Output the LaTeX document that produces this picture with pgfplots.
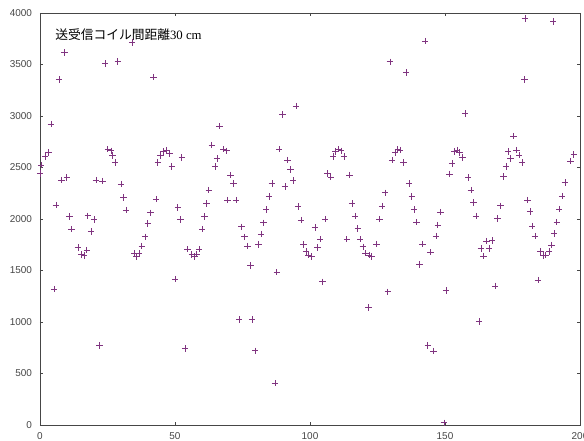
\documentclass[border=0pt]{standalone}
\usepackage{fontspec}
\usepackage{pgfplots}
\pgfplotsset{compat=1.18}
\setmainfont{Liberation Serif}
\newfontfamily\ticfont{Liberation Sans}
\newfontfamily\cjk{Noto Sans CJK JP}
\definecolor{markpurple}{RGB}{128,52,128}
\definecolor{axisgray}{RGB}{70,70,70}
\begin{document}
\begin{tikzpicture}
\useasboundingbox (-40bp,-16bp) rectangle (544bp,425bp);
\clip (-40bp,-16bp) rectangle (544bp,425bp);
\begin{axis}[
  width=540bp, height=412bp, scale only axis,
  xmin=0, xmax=200, ymin=0, ymax=4000,
  xtick={0,50,...,200}, ytick={0,500,...,4000},
  tick align=inside, major tick length=3bp,
  axis line style={axisgray, line width=0.8pt},
  tick style={axisgray, line width=0.6pt},
  /pgf/number format/assume math mode=true,
  /pgf/number format/set thousands separator={},
  scaled ticks=false,
  ticklabel style={font=\ticfont\fontsize{10}{12}\selectfont, text=axisgray},
  yticklabel style={xshift=-4.5bp},
  xticklabel style={yshift=-4.5bp},
  clip=false,
]
\addplot[only marks, mark=+, mark size=3.2bp, color=markpurple, line width=0.6pt] coordinates {
(0,2443) (0.4,2524) (1.9,2605) (3.1,2647) (4.0,2922) (5.2,1320) (5.9,2136)
(7.1,3356) (8.0,2379) (9.1,3618) (9.9,2401) (10.9,2023) (11.7,1900)
(14.0,1722) (15.4,1657) (16.4,1647) (17.3,1699) (17.7,2032) (18.9,1877)
(20.0,1997) (20.7,2379) (22.0,770) (23.1,2369) (24.1,3511) (25.1,2677)
(26.3,2663) (26.9,2615) (27.8,2550) (28.8,3530) (30.0,2340) (30.9,2210)
(31.9,2087) (34.1,3715) (34.9,1667) (35.8,1634) (36.7,1667) (37.7,1738)
(38.9,1828) (39.9,1958) (40.9,2061) (42.0,3379) (43.0,2194) (43.6,2550)
(44.6,2615) (45.7,2654) (46.7,2670) (47.9,2637) (48.8,2508) (50.0,1417)
(51.0,2113) (52.0,1997) (52.5,2599) (53.7,744) (54.7,1706) (56.2,1657)
(57.2,1634) (58.0,1660) (58.9,1706) (60.1,1900) (60.9,2023) (61.7,2152)
(62.5,2282) (63.6,2718) (64.8,2508) (65.6,2589) (66.5,2900) (67.9,2677)
(69.1,2663) (69.5,2184) (70.6,2427) (71.6,2346) (72.6,2184) (73.8,1026)
(74.7,1925) (75.7,1828) (76.8,1738) (78.0,1547) (78.5,1026) (79.7,721)
(80.9,1754) (81.9,1854) (82.8,1964) (83.8,2094) (84.8,2217) (85.9,2346)
(87.0,405) (87.7,1483) (88.6,2677) (89.8,3016) (90.7,2314) (91.7,2573)
(92.8,2482) (93.8,2372) (94.8,3097) (95.6,2120) (96.7,1990) (97.6,1754)
(98.5,1683) (99.4,1650) (100.6,1634) (101.9,1918) (102.8,1722) (103.8,1803)
(104.6,1391) (105.6,2000) (106.5,2443) (107.7,2405) (108.6,2605) (109.5,2654)
(110.5,2677) (111.5,2663) (112.6,2605) (113.6,1803) (114.6,2427) (115.6,2152)
(116.7,2029) (117.7,1906) (118.6,1803) (119.6,1731) (120.6,1667) (121.6,1139)
(121.9,1650) (122.8,1634) (124.7,1757) (125.7,2000) (126.7,2126) (127.8,2255)
(128.8,1294) (129.6,3527) (130.4,2573) (131.5,2644) (132.5,2677) (133.3,2670)
(134.6,2547) (135.6,3424) (136.7,2346) (137.7,2217) (138.5,2094) (139.5,1968)
(140.5,1560) (141.7,1757) (142.6,3728) (143.6,770) (144.6,1677) (145.7,718)
(146.7,1835) (147.3,1942) (148.4,2068) (149.6,22) (150.4,1304) (151.6,2437)
(152.6,2540) (153.5,2654) (154.4,2670) (155.3,2644) (156.5,2596) (157.4,3026)
(158.6,2401) (159.6,2282) (160.5,2159) (161.5,2029) (162.6,1003) (163.3,1715)
(164.2,1641) (165.3,1786) (166.4,1715) (167.5,1790) (168.5,1350) (169.5,2006)
(170.5,2129) (171.6,2411) (172.6,2508) (173.4,2654) (174.3,2589) (175.3,2806)
(176.5,2670) (177.5,2621) (178.5,2550) (179.4,3356) (179.6,3945) (180.6,2184)
(181.5,2071) (182.3,1932) (183.3,1835) (184.4,1408) (185.4,1683) (186.4,1644)
(187.3,1650) (188.5,1683) (189.5,1748) (190.1,3916) (190.4,1861) (191.4,1968)
(192.3,2097) (193.4,2223) (194.4,2353) (196.5,2563) (197.7,2628)
};
\node[anchor=west, inner sep=0pt] at (axis cs:5.6,3786)
  {{\cjk\fontsize{12.8}{14}\selectfont 送受信コイル間距離}{\fontsize{12.8}{14}\selectfont 30 cm}};
\end{axis}
\end{tikzpicture}
\end{document}
